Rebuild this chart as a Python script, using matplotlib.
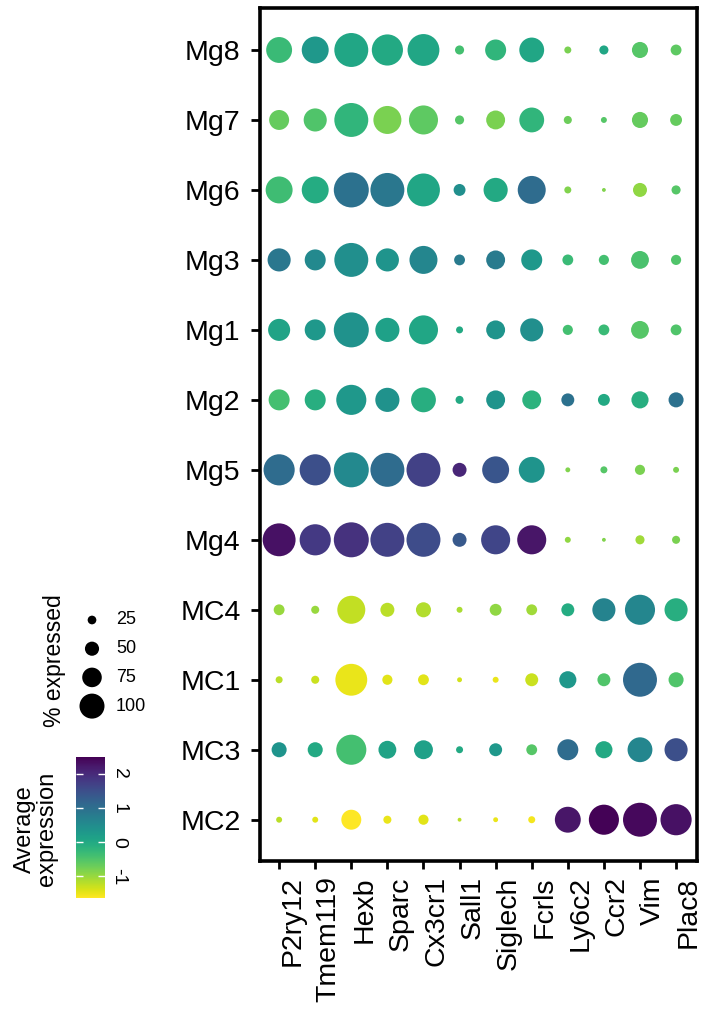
import numpy as np
import matplotlib
matplotlib.use("Agg")
import matplotlib.pyplot as plt
from matplotlib.colors import Normalize
from matplotlib.cm import ScalarMappable

plt.rcParams["font.family"] = ["Liberation Sans", "DejaVu Sans"]

# =========================
# data
# =========================
clusters = ["Mg8", "Mg7", "Mg6", "Mg3", "Mg1", "Mg2", "Mg5", "Mg4", "MC4", "MC1", "MC3", "MC2"]
genes = ["P2ry12", "Tmem119", "Hexb", "Sparc", "Cx3cr1", "Sall1",
         "Siglech", "Fcrls", "Ly6c2", "Ccr2", "Vim", "Plac8"]

# % expressed (rows follow clusters, columns follow genes)
pct_mg8 = [74, 77, 97, 89, 91, 26, 60, 71, 20, 26, 46, 31]
pct_mg7 = [57, 66, 97, 80, 83, 26, 54, 71, 23, 17, 46, 34]
pct_mg6 = [77, 77, 100, 97, 94, 34, 69, 80, 20, 11, 40, 26]
pct_mg3 = [66, 60, 97, 66, 80, 31, 54, 60, 31, 29, 51, 29]
pct_mg1 = [63, 60, 100, 69, 83, 20, 54, 66, 29, 31, 51, 31]
pct_mg2 = [60, 60, 86, 69, 71, 23, 54, 54, 37, 34, 49, 43]
pct_mg5 = [89, 89, 100, 97, 97, 40, 77, 74, 14, 20, 29, 17]
pct_mg4 = [94, 89, 100, 97, 97, 40, 83, 83, 17, 11, 26, 23]
pct_mc4 = [31, 23, 80, 40, 43, 17, 34, 31, 37, 66, 86, 66]
pct_mc1 = [20, 23, 91, 29, 31, 14, 17, 37, 49, 37, 97, 43]
pct_mc3 = [43, 43, 86, 51, 54, 20, 37, 31, 60, 49, 71, 66]
pct_mc2 = [17, 17, 57, 23, 29, 11, 14, 20, 74, 86, 97, 89]

# average (scaled) expression
avg_mg8 = [-0.3, 0.3, 0.05, 0.0, 0.05, -0.4, -0.2, 0.05, -0.8, 0.05, -0.55, -0.6]
avg_mg7 = [-0.65, -0.5, -0.2, -0.8, -0.6, -0.55, -0.8, -0.2, -0.7, -0.55, -0.65, -0.65]
avg_mg6 = [-0.35, -0.05, 0.95, 0.85, 0.05, 0.45, 0.0, 1.05, -0.85, -0.85, -0.95, -0.55]
avg_mg3 = [0.85, 0.55, 0.45, 0.35, 0.6, 0.8, 0.8, 0.3, -0.3, -0.4, -0.45, -0.5]
avg_mg1 = [0.1, 0.3, 0.4, 0.15, 0.05, 0.0, 0.35, 0.45, -0.4, -0.3, -0.55, -0.5]
avg_mg2 = [-0.4, -0.1, 0.3, 0.4, -0.1, 0.0, 0.35, -0.15, 0.95, 0.0, -0.1, 0.95]
avg_mg5 = [1.05, 1.5, 0.55, 1.05, 1.7, 2.05, 1.4, 0.35, -0.85, -0.55, -0.8, -0.8]
avg_mg4 = [2.3, 1.8, 1.9, 1.7, 1.55, 1.35, 1.65, 2.25, -0.95, -0.85, -1.05, -0.8]
avg_mc4 = [-1.0, -1.0, -1.25, -1.2, -1.15, -1.1, -0.95, -1.05, -0.05, 0.65, 0.6, -0.1]
avg_mc1 = [-1.2, -1.3, -1.5, -1.45, -1.45, -1.35, -1.5, -1.3, 0.3, -0.5, 1.1, -0.5]
avg_mc3 = [0.35, 0.0, -0.4, 0.1, 0.15, 0.0, 0.3, -0.55, 1.05, 0.0, 0.6, 1.5]
avg_mc2 = [-1.2, -1.45, -1.64, -1.5, -1.45, -1.2, -1.5, -1.55, 2.25, 2.47, 2.4, 2.3]

pct = np.array([pct_mg8, pct_mg7, pct_mg6, pct_mg3, pct_mg1, pct_mg2,
                pct_mg5, pct_mg4, pct_mc4, pct_mc1, pct_mc3, pct_mc2], dtype=float)
avg = np.array([avg_mg8, avg_mg7, avg_mg6, avg_mg3, avg_mg1, avg_mg2,
                avg_mg5, avg_mg4, avg_mc4, avg_mc1, avg_mc3, avg_mc2], dtype=float)

legend_pct = [25, 50, 75, 100]
cbar_ticks = [-1, 0, 1, 2]
VMIN, VMAX = -1.63, 2.49

# =========================
# plot
# =========================
W, H = 709, 1011
fig = plt.figure(figsize=(W / 100, H / 100), dpi=100)

def px_box(x0, y0, x1, y1):
    return [x0 / W, 1 - y1 / H, (x1 - x0) / W, (y1 - y0) / H]

ax = fig.add_axes(px_box(260, 8, 697, 861))
cmap = plt.get_cmap("viridis_r")
norm = Normalize(VMIN, VMAX)

n_rows, n_cols = pct.shape
xx, yy = np.meshgrid(np.arange(n_cols), np.arange(n_rows)[::-1])
sizes = (0.72 * 0.35 * pct) ** 2          # diameter 35 px at 100 %
ax.scatter(xx.ravel(), yy.ravel(), s=sizes.ravel(), c=avg.ravel(),
           cmap=cmap, norm=norm, linewidths=0, zorder=3)

ax.set_xlim(-0.53, n_cols - 1 + 0.58)
ax.set_ylim(-0.59, n_rows - 1 + 0.6)
ax.set_xticks(np.arange(n_cols))
ax.set_xticklabels(genes, rotation=90, ha="left", va="top", fontsize=20.5)
ax.set_yticks(np.arange(n_rows)[::-1])
ax.set_yticklabels(clusters, fontsize=20.5)
ax.tick_params(axis="y", length=6.5, width=2.0, pad=7.5)
ax.tick_params(axis="x", length=6, width=2.0, pad=5)
for sp in ax.spines.values():
    sp.set_linewidth(2.6)

# ---- size legend
lax = fig.add_axes(px_box(60, 600, 170, 726))
lax.set_xlim(60, 170)
lax.set_ylim(726, 600)
lax.axis("off")
leg_y = 620 + 28.7 * np.arange(len(legend_pct))
leg_d = 25 * (np.array(legend_pct) + 15) / 115   # px diameter
lax.scatter(np.full(len(legend_pct), 92), leg_y, s=(0.72 * leg_d) ** 2,
            color="black", linewidths=0)
for yv, lab in zip(leg_y, legend_pct):
    lax.text(116, yv, str(lab), fontsize=13, va="center", ha="left")
fig.text(54 / W, 1 - 661 / H, "% expressed", rotation=90,
         fontsize=16.5, ha="center", va="center")

# ---- colour bar
cax = fig.add_axes(px_box(76, 757, 105, 898))
sm = ScalarMappable(norm=norm, cmap=cmap)
cb = fig.colorbar(sm, cax=cax, ticks=cbar_ticks)
cb.outline.set_visible(False)
cax.yaxis.set_ticks_position("both")
cax.tick_params(axis="y", direction="in", color="white", length=5, width=1,
                labelsize=14, pad=4, labelright=True, labelleft=False)
cax.set_yticklabels([str(t) for t in cbar_ticks])
for t in cax.get_yticklabels():
    t.set_rotation(-90)
    t.set_va("center")
fig.text(36 / W, 1 - 829 / H, "Average\nexpression", rotation=90,
         fontsize=17, ha="center", va="center", multialignment="center",
         linespacing=1.0)

fig.savefig("out.png", dpi=100)
